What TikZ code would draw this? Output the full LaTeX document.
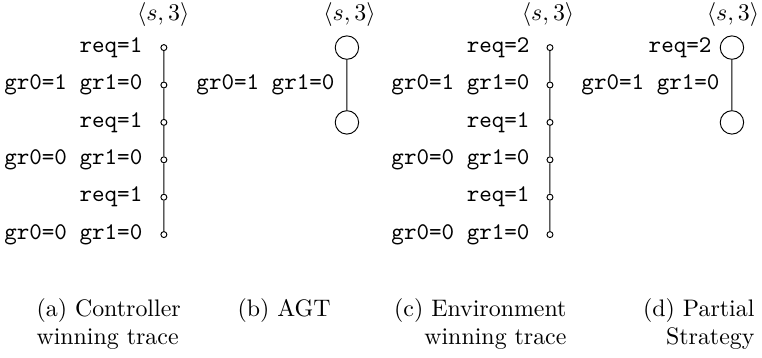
\documentclass[tikz,border=0pt]{standalone}
\usepackage{amsmath,amssymb}

\begin{document}
\begin{tikzpicture}[scale=0.2]
		\tikzstyle{every node}+=[inner sep=0pt]
		\tikzstyle{dot}=[draw, circle, minimum size=2.5pt, fill=white]
		\tikzstyle{state}=[draw, circle, minimum size=9.8pt]
		\tikzstyle{lab}=[anchor=east, font=\ttfamily]
		\useasboundingbox (0,0) rectangle (56.03,-26.32);
		% (a) controller winning trace
		\node (ta) at (12.0,-1.1) {$\langle s,3\rangle$};
		\node [dot] (a1) at (12.05,-3.5) {};
		\node [dot] (a2) at (12.05,-6.25) {};
		\node [dot] (a3) at (12.05,-9.0) {};
		\node [dot] (a4) at (12.05,-11.75) {};
		\node [dot] (a5) at (12.05,-14.5) {};
		\node [dot] (a6) at (12.05,-17.25) {};
		\node [lab] (la1) at (10.5,-3.5) {req=1};
		\node [lab] (la2) at (10.5,-6.25) {gr0=1 gr1=0};
		\node [lab] (la3) at (10.5,-9.0) {req=1};
		\node [lab] (la4) at (10.5,-11.75) {gr0=0 gr1=0};
		\node [lab] (la5) at (10.5,-14.5) {req=1};
		\node [lab] (la6) at (10.5,-17.25) {gr0=0 gr1=0};
		\draw [black] (a1) -- (a2) -- (a3) -- (a4) -- (a5) -- (a6);
		% (b) AGT
		\node (tb) at (25.7,-1.1) {$\langle s,3\rangle$};
		\node [state] (b1) at (25.51,-3.5) {};
		\node [state] (b2) at (25.51,-9.0) {};
		\node [lab] (lb1) at (24.63,-6.25) {gr0=1 gr1=0};
		\draw [black] (b1) -- (b2);
		% (c) environment winning trace
		\node (tc) at (40.3,-1.1) {$\langle s,3\rangle$};
		\node [dot] (c1) at (40.44,-3.5) {};
		\node [dot] (c2) at (40.44,-6.25) {};
		\node [dot] (c3) at (40.44,-9.0) {};
		\node [dot] (c4) at (40.44,-11.75) {};
		\node [dot] (c5) at (40.44,-14.5) {};
		\node [dot] (c6) at (40.44,-17.25) {};
		\node [lab] (lc1) at (38.97,-3.5) {req=2};
		\node [lab] (lc2) at (38.97,-6.25) {gr0=1 gr1=0};
		\node [lab] (lc3) at (38.97,-9.0) {req=1};
		\node [lab] (lc4) at (38.97,-11.75) {gr0=0 gr1=0};
		\node [lab] (lc5) at (38.97,-14.5) {req=1};
		\node [lab] (lc6) at (38.97,-17.25) {gr0=0 gr1=0};
		\draw [black] (c1) -- (c2) -- (c3) -- (c4) -- (c5) -- (c6);
		% (d) partial strategy
		\node (td) at (53.9,-1.1) {$\langle s,3\rangle$};
		\node [state] (d1) at (53.82,-3.5) {};
		\node [state] (d2) at (53.82,-9.0) {};
		\node [lab] (ld1) at (52.35,-3.5) {req=2};
		\node [lab] (ld2) at (52.94,-6.25) {gr0=1 gr1=0};
		\draw [black] (d1) -- (d2);
		% captions
		\node [anchor=north west, align=left] (capa) at (2.65,-21.9) {(a) Controller\\winning trace};
		\node [anchor=north west] (capb) at (17.43,-21.9) {(b) AGT};
		\node [anchor=north east, align=right] (capc) at (41.69,-21.9) {(c) Environment\\winning trace};
		\node [anchor=north east, align=right] (capd) at (55.51,-21.9) {(d) Partial\\Strategy};
\end{tikzpicture}
\end{document}
